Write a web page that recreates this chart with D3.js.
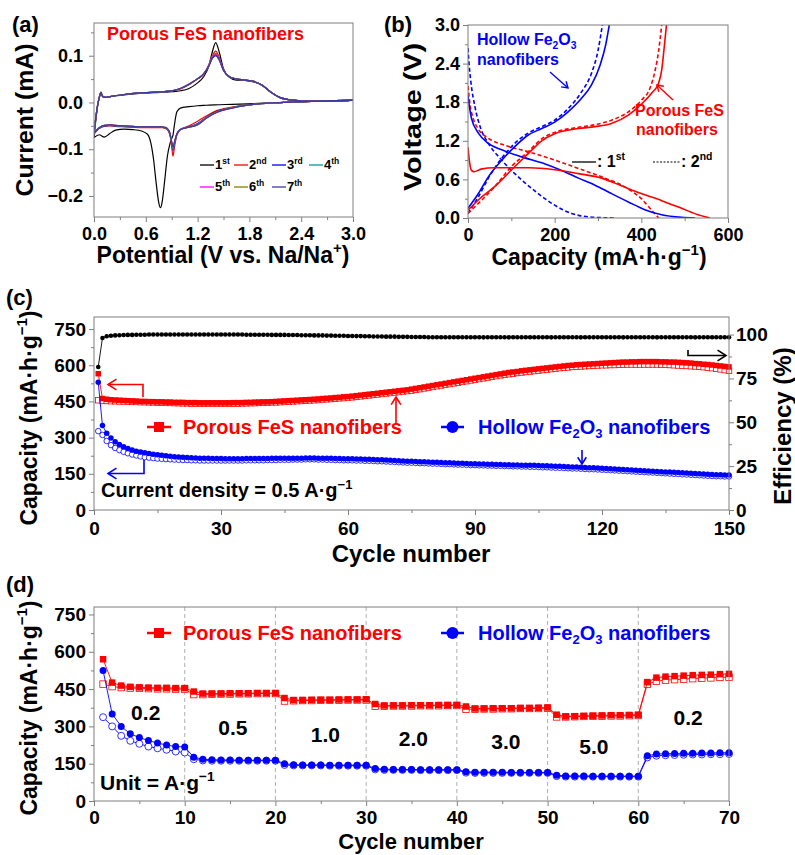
<!DOCTYPE html>
<html>
<head>
<meta charset="utf-8">
<script src="https://cdn.jsdelivr.net/npm/d3@7"></script>
<style>
  body { margin: 0; background: #fff; }
  svg text { font-family: "Liberation Sans", Arial, Helvetica, sans-serif; font-weight: bold; }
</style>
</head>
<body>
<svg id="fig" width="795" height="855"></svg>
<script>
// ---------------- (a) cyclic voltammetry, porous FeS ----------------
const cvCathodicE = [3.0, 2.6, 2.2, 1.9, 1.6, 1.4, 1.3, 1.2, 1.1, 1.0, 0.96, 0.93, 0.915, 0.9, 0.88, 0.85,
    0.82, 0.79, 0.77, 0.75, 0.72, 0.69, 0.66, 0.62, 0.55, 0.45, 0.35, 0.25, 0.18, 0.12, 0.06, 0.0];
const cvAnodicE = [0.0, 0.02, 0.04, 0.06, 0.08, 0.1, 0.13, 0.2, 0.35, 0.5, 0.7, 0.9, 1.0, 1.1, 1.2, 1.27,
    1.33, 1.37, 1.41, 1.45, 1.5, 1.56, 1.65, 1.75, 1.85, 1.95, 2.05, 2.15, 2.3, 2.5, 2.8, 3.0];

const cvCath1 = [0.005, 0.003, 0.000, -0.002, -0.004, -0.005, -0.006, -0.007, -0.009, -0.012, -0.020, -0.050, -0.070, -0.077, -0.088, -0.115,
    -0.165, -0.212, -0.225, -0.214, -0.172, -0.122, -0.088, -0.068, -0.061, -0.058, -0.057, -0.059, -0.067, -0.074, -0.069, -0.075];
const cvCath2 = [0.005, 0.003, 0.000, -0.003, -0.010, -0.019, -0.029, -0.040, -0.050, -0.058, -0.070, -0.098, -0.115, -0.095, -0.070, -0.058,
    -0.055, -0.054, -0.054, -0.054, -0.054, -0.054, -0.054, -0.054, -0.054, -0.053, -0.052, -0.051, -0.050, -0.051, -0.056, -0.068];
const cvCath3 = [0.005, 0.003, 0.000, -0.003, -0.011, -0.021, -0.032, -0.045, -0.052, -0.058, -0.068, -0.090, -0.102, -0.088, -0.068, -0.057,
    -0.054, -0.053, -0.053, -0.053, -0.053, -0.053, -0.053, -0.053, -0.053, -0.052, -0.051, -0.050, -0.049, -0.050, -0.055, -0.066];
const cvCath4 = [0.005, 0.003, 0.000, -0.003, -0.011, -0.022, -0.033, -0.046, -0.052, -0.058, -0.068, -0.089, -0.100, -0.087, -0.067, -0.057,
    -0.054, -0.053, -0.053, -0.053, -0.053, -0.053, -0.053, -0.053, -0.053, -0.052, -0.051, -0.050, -0.049, -0.050, -0.055, -0.066];
const cvCath5 = [0.005, 0.003, 0.000, -0.003, -0.012, -0.023, -0.034, -0.047, -0.053, -0.058, -0.067, -0.086, -0.094, -0.084, -0.066, -0.056,
    -0.053, -0.052, -0.052, -0.052, -0.052, -0.052, -0.052, -0.052, -0.052, -0.051, -0.050, -0.049, -0.048, -0.049, -0.054, -0.065];
const cvCath6 = [0.005, 0.003, 0.000, -0.003, -0.011, -0.022, -0.033, -0.047, -0.053, -0.058, -0.067, -0.087, -0.097, -0.086, -0.067, -0.057,
    -0.053, -0.052, -0.052, -0.052, -0.052, -0.052, -0.052, -0.052, -0.052, -0.051, -0.050, -0.049, -0.048, -0.049, -0.054, -0.065];
const cvCath7 = [0.005, 0.003, 0.000, -0.003, -0.012, -0.023, -0.034, -0.048, -0.053, -0.058, -0.067, -0.086, -0.095, -0.085, -0.066, -0.056,
    -0.053, -0.052, -0.052, -0.052, -0.052, -0.052, -0.052, -0.052, -0.052, -0.051, -0.050, -0.049, -0.048, -0.049, -0.054, -0.065];

const cvAnod1 = [-0.075, -0.040, -0.010, 0.010, 0.022, 0.014, 0.011, 0.013, 0.016, 0.019, 0.021, 0.023, 0.025, 0.030, 0.042, 0.055,
    0.078, 0.108, 0.128, 0.108, 0.072, 0.055, 0.048, 0.047, 0.044, 0.036, 0.022, 0.011, 0.005, 0.003, 0.003, 0.005];
const cvAnod2 = [-0.068, -0.035, -0.008, 0.010, 0.020, 0.013, 0.011, 0.013, 0.017, 0.020, 0.022, 0.025, 0.029, 0.038, 0.050, 0.060,
    0.080, 0.100, 0.110, 0.097, 0.070, 0.056, 0.050, 0.048, 0.045, 0.037, 0.022, 0.011, 0.005, 0.003, 0.003, 0.005];
const cvAnod3 = [-0.066, -0.034, -0.008, 0.010, 0.020, 0.013, 0.011, 0.013, 0.017, 0.020, 0.022, 0.025, 0.030, 0.039, 0.051, 0.061,
    0.078, 0.094, 0.100, 0.091, 0.069, 0.056, 0.050, 0.048, 0.045, 0.037, 0.022, 0.011, 0.005, 0.003, 0.003, 0.005];
const cvAnod4 = [-0.066, -0.034, -0.008, 0.010, 0.020, 0.013, 0.011, 0.013, 0.017, 0.020, 0.022, 0.025, 0.030, 0.039, 0.051, 0.061,
    0.079, 0.097, 0.103, 0.093, 0.069, 0.056, 0.050, 0.048, 0.045, 0.037, 0.022, 0.011, 0.005, 0.003, 0.003, 0.005];
const cvAnod5 = [-0.065, -0.034, -0.008, 0.010, 0.020, 0.013, 0.011, 0.013, 0.017, 0.020, 0.022, 0.025, 0.030, 0.039, 0.051, 0.061,
    0.080, 0.099, 0.105, 0.094, 0.070, 0.056, 0.050, 0.048, 0.045, 0.037, 0.022, 0.011, 0.005, 0.003, 0.003, 0.005];
const cvAnod6 = [-0.065, -0.034, -0.008, 0.010, 0.020, 0.013, 0.011, 0.013, 0.017, 0.020, 0.022, 0.025, 0.030, 0.039, 0.051, 0.061,
    0.079, 0.096, 0.102, 0.092, 0.069, 0.056, 0.050, 0.048, 0.045, 0.037, 0.022, 0.011, 0.005, 0.003, 0.003, 0.005];
const cvAnod7 = [-0.065, -0.034, -0.008, 0.010, 0.020, 0.013, 0.011, 0.013, 0.017, 0.020, 0.022, 0.025, 0.030, 0.039, 0.051, 0.061,
    0.078, 0.095, 0.101, 0.092, 0.069, 0.056, 0.050, 0.048, 0.045, 0.037, 0.022, 0.011, 0.005, 0.003, 0.003, 0.005];

const cvCycleNames = [["1", "st"], ["2", "nd"], ["3", "rd"], ["4", "th"], ["5", "th"], ["6", "th"], ["7", "th"]];
const cvColors = ["#000000", "#ff0000", "#0000ff", "#009c9c", "#ff00ff", "#808000", "#3a3aa8"];
const cvCathodic = [cvCath1, cvCath2, cvCath3, cvCath4, cvCath5, cvCath6, cvCath7];
const cvAnodic = [cvAnod1, cvAnod2, cvAnod3, cvAnod4, cvAnod5, cvAnod6, cvAnod7];

// ---------------- (b) galvanostatic profiles [capacity, voltage] ----------------
const fes1stDischarge = [[0, 1.1], [3, 0.9], [8, 0.74], [14, 0.72], [30, 0.76], [60, 0.78], [140, 0.78], [200, 0.75], [255, 0.69],
    [308, 0.62], [354, 0.5], [400, 0.38], [447, 0.27], [493, 0.15], [531, 0.05], [558, 0]];
const fes1stCharge = [[0, 0.12], [32, 0.33], [62, 0.49], [108, 0.8], [139, 1.0], [170, 1.2], [200, 1.31], [255, 1.39], [293, 1.42],
    [331, 1.47], [370, 1.6], [400, 1.77], [425, 1.95], [440, 2.1], [447, 2.3], [452, 2.6], [458, 3.0]];
const fes2ndDischarge = [[0, 2.05], [5, 1.75], [12, 1.55], [24, 1.38], [47, 1.24], [85, 1.13], [139, 1.03], [200, 0.9], [255, 0.77],
    [308, 0.64], [370, 0.45], [400, 0.3], [424, 0.12], [440, 0]];
const fes2ndCharge = [[0, 0.07], [32, 0.28], [62, 0.49], [100, 0.8], [139, 1.03], [170, 1.23], [200, 1.33], [255, 1.41], [293, 1.45],
    [331, 1.52], [370, 1.65], [400, 1.83], [420, 2.02], [432, 2.3], [440, 2.6], [447, 3.0]];
const fe2o31stDischarge = [[0, 1.9], [4, 1.7], [8, 1.55], [24, 1.32], [47, 1.16], [78, 1.06], [124, 0.95], [178, 0.84], [216, 0.74],
    [255, 0.62], [293, 0.51], [331, 0.38], [370, 0.25], [408, 0.13], [447, 0.05], [493, 0.01], [524, 0]];
const fe2o31stCharge = [[0, 0.15], [24, 0.38], [47, 0.64], [78, 0.9], [108, 1.11], [139, 1.29], [170, 1.39], [200, 1.49], [231, 1.65],
    [262, 1.86], [285, 2.07], [305, 2.38], [318, 2.7], [326, 3.0]];
const fe2o32ndDischarge = [[0, 2.64], [3, 2.35], [6, 2.15], [16, 1.73], [28, 1.42], [47, 1.16], [78, 0.9], [124, 0.59], [162, 0.38],
    [200, 0.2], [239, 0.07], [293, 0.01], [340, 0]];
const fe2o32ndCharge = [[0, 0.07], [24, 0.33], [47, 0.62], [78, 0.93], [108, 1.16], [139, 1.32], [170, 1.42], [200, 1.52], [231, 1.7],
    [262, 1.96], [285, 2.25], [300, 2.6], [310, 3.0]];

// ---------------- (c) cycling at 0.5 A/g, cycles 1..150 ----------------
const fesCycFilled = [
    565,462,459,457,456,455,454,453,452,451,450,450,449,449,448,
    448,447,447,446,446,446,445,445,445,444,444,444,444,444,444,
    444,444,445,445,445,446,446,447,447,448,448,449,450,451,452,
    453,454,455,456,457,458,459,460,462,463,464,466,467,469,470,
    472,474,476,478,480,482,484,486,488,490,492,494,496,498,501,
    504,507,510,513,516,519,522,525,528,531,534,537,540,543,546,
    549,552,555,558,561,564,567,570,572,574,577,579,581,583,585,
    587,589,591,593,595,597,599,600,602,603,604,605,606,607,608,
    609,610,611,612,613,613,614,614,615,615,615,615,615,614,614,
    613,613,612,611,610,609,607,606,604,603,601,599,597,595,593];
const fesCycOpen = [
    455,452,452,451,451,450,450,449,449,448,447,447,446,446,445,
    445,444,444,443,443,442,442,441,441,441,441,441,441,441,441,
    441,441,441,441,442,442,443,443,444,444,445,446,446,447,448,
    449,450,451,452,453,454,455,456,458,459,460,461,463,464,466,
    467,469,471,473,475,477,479,481,483,485,487,489,491,493,495,
    498,501,504,507,510,513,516,519,522,525,528,531,534,537,540,
    543,546,549,552,555,558,561,563,565,568,570,572,574,576,578,
    580,582,584,586,588,590,591,593,594,595,596,597,598,599,600,
    600,601,601,602,602,603,603,603,603,603,603,603,603,602,602,
    601,600,599,598,597,596,595,594,592,590,588,586,583,580,577];
const feCycFilled = [
    530,350,318,298,283,271,262,255,249,244,240,237,234,231,229,
    227,225,223,221,220,219,218,217,216,215,214,214,213,213,213,
    212,212,212,212,212,213,213,213,213,213,213,214,214,214,214,
    214,215,215,215,216,216,216,215,215,214,214,213,213,212,212,
    212,211,211,210,210,209,208,208,207,206,205,204,203,202,202,
    201,200,200,199,198,198,197,196,196,195,194,194,193,192,192,
    191,191,190,190,189,189,188,188,187,187,186,186,185,185,184,
    183,183,182,181,181,180,179,178,178,177,176,175,175,174,173,
    172,171,170,169,168,167,166,165,164,163,162,161,160,159,158,
    157,156,155,154,153,152,151,150,149,148,147,146,146,145,145];
const feCycOpen = [
    327,311,286,269,257,248,241,235,230,226,222,219,217,215,213,
    212,211,210,209,208,207,207,206,206,205,205,205,205,205,205,
    205,205,205,205,205,206,206,206,206,206,207,207,207,208,208,
    208,209,209,209,210,210,210,209,209,208,208,207,207,206,206,
    206,205,205,204,204,203,202,202,201,200,199,198,197,196,196,
    195,194,194,193,192,192,191,190,190,189,188,188,187,186,186,
    185,185,184,184,183,183,182,182,181,181,180,180,179,179,178,
    177,177,176,175,175,174,173,172,172,171,170,169,169,168,167,
    166,165,164,163,162,161,160,159,158,157,156,155,154,153,152,
    151,150,149,148,147,146,145,144,143,142,141,140,140,139,139];
const efficiency = [
    81.5,98.0,99.0,99.3,99.5,99.6,99.7,99.8,99.8,99.9,99.9,99.9,100,100,100,
    100,100,100,100,100,100,100,100,100,100,100,100,100,100,100,
    100,100,100,100,100,99.9,99.9,99.9,99.9,99.9,99.9,99.8,99.8,99.8,99.8,
    99.7,99.7,99.7,99.6,99.6,99.6,99.5,99.5,99.5,99.4,99.4,99.3,99.3,99.3,99.2,
    99.2,99.1,99.1,99.0,99.0,98.9,98.9,98.9,98.8,98.8,98.8,98.7,98.7,98.7,98.6,
    98.6,98.6,98.6,98.5,98.5,98.5,98.5,98.5,98.5,98.5,98.5,98.5,98.5,98.5,98.5,
    98.5,98.4,98.5,98.5,98.5,98.5,98.5,98.4,98.5,98.5,98.5,98.5,98.5,98.5,98.5,
    98.5,98.5,98.4,98.5,98.5,98.5,98.5,98.5,98.5,98.4,98.5,98.5,98.5,98.5,98.5,
    98.5,98.5,98.5,98.5,98.4,98.5,98.5,98.5,98.5,98.5,98.5,98.5,98.4,98.5,98.5,
    98.5,98.5,98.5,98.5,98.5,98.5,98.4,98.5,98.5,98.5,98.5,98.5,98.5,98.5,98.5];

// ---------------- (d) rate capability, cycles 1..70 ----------------
const fesRateFilled = [
    570,476,464,459,457,456,455,455,454,454,
    440,432,432,432,433,433,433,434,434,434,
    414,406,406,407,407,407,408,408,408,409,
    390,384,384,384,385,385,385,386,386,386,
    380,372,372,373,373,373,374,374,375,376,
    347,340,341,342,343,344,345,345,346,347,
    478,496,500,502,504,506,507,508,510,511];
const fesRateOpen = [
    470,460,456,454,453,452,451,451,450,450,
    428,428,429,430,430,431,431,432,432,432,
    402,403,404,404,405,405,405,406,406,406,
    381,381,382,382,382,383,383,383,384,384,
    369,369,370,370,371,371,372,372,372,373,
    338,338,339,340,341,341,342,342,343,344,
    470,482,486,488,490,492,494,495,497,498];
const feRateFilled = [
    525,350,300,270,255,243,233,225,219,217,
    176,168,166,165,165,164,164,164,164,164,
    150,146,145,145,145,144,144,144,144,144,
    131,128,127,127,127,126,126,126,126,126,
    118,116,116,116,116,115,115,115,115,115,
    104,101,101,101,100,100,100,100,100,100,
    182,189,190,191,192,192,193,193,194,194];
const feRateOpen = [
    337,300,262,242,230,219,212,206,199,195,
    168,163,162,162,162,162,162,162,162,162,
    145,143,143,143,143,142,142,142,142,142,
    127,125,125,125,125,124,124,124,124,124,
    114,113,113,113,113,113,113,113,113,113,
    100,98,98,98,98,98,98,98,98,98,
    175,182,184,185,186,187,187,188,188,189];
const rateLabels = ["0.2", "0.5", "1.0", "2.0", "3.0", "5.0", "0.2"];

const cyclesC = d3.range(1, fesCycFilled.length + 1);
const cyclesD = d3.range(1, fesRateFilled.length + 1);

// ---------------- drawing helpers ----------------
const svg = d3.select("#fig");
const FRAME = "#7f7f7f";
const RED = "#ff0000";
const BLUE = "#0000ff";

// parts: plain strings or {t, sup:true} / {t, sub:true}
function rich(sel, parts, size) {
    let shift = 0;
    parts.forEach(p => {
        const o = typeof p === "string" ? {t: p} : p;
        const target = o.sup ? -0.42 * size : o.sub ? 0.22 * size : 0;
        sel.append("tspan")
            .attr("dy", target - shift)
            .attr("font-size", (o.sup || o.sub) ? size * 0.65 : size)
            .text(o.t);
        shift = target;
    });
}

function txt(x, y, parts, size, opt = {}) {
    let tr = `translate(${x},${y})`;
    if (opt.rotate) tr += ` rotate(${opt.rotate})`;
    if (opt.sx) tr += ` scale(${opt.sx},1)`;
    const t = svg.append("text")
        .attr("transform", tr)
        .attr("text-anchor", opt.anchor || "start")
        .attr("font-size", size)
        .attr("fill", opt.color || "#000");
    rich(t, typeof parts === "string" ? [parts] : parts, size);
    return t;
}

function frame(b) {
    svg.append("rect")
        .attr("x", b.x0).attr("y", b.y0)
        .attr("width", b.x1 - b.x0).attr("height", b.y1 - b.y0)
        .attr("fill", "none").attr("stroke", FRAME).attr("stroke-width", 1);
}

function axis(kind, scale, b, major, minor, fmt, size, pad) {
    const pos = {left: [b.x0, 0], right: [b.x1, 0], bottom: [0, b.y1]}[kind];
    const maker = {left: d3.axisLeft, right: d3.axisRight, bottom: d3.axisBottom}[kind];
    const g = svg.append("g").attr("transform", `translate(${pos})`)
        .call(maker(scale).tickValues(major).tickFormat(fmt).tickSizeInner(5).tickSizeOuter(0).tickPadding(pad));
    g.select(".domain").remove();
    g.selectAll(".tick line").attr("stroke", FRAME);
    g.selectAll(".tick text").attr("font-size", size).attr("fill", "#000");
    const m = svg.append("g").attr("transform", `translate(${pos})`)
        .call(maker(scale).tickValues(minor).tickFormat("").tickSizeInner(3).tickSizeOuter(0));
    m.select(".domain").remove();
    m.selectAll(".tick line").attr("stroke", FRAME);
}

function arrow(points, color, head, width) {
    svg.append("path").attr("d", d3.line()(points))
        .attr("fill", "none").attr("stroke", color).attr("stroke-width", width);
    const p = points[points.length - 2], q = points[points.length - 1];
    const a = Math.atan2(q[1] - p[1], q[0] - p[0]);
    const barbs = [a + Math.PI * 0.82, a - Math.PI * 0.82].map(t => [q[0] + head * Math.cos(t), q[1] + head * Math.sin(t)]);
    svg.append("path").attr("d", d3.line()([barbs[0], q, barbs[1]]))
        .attr("fill", "none").attr("stroke", color).attr("stroke-width", width);
}

function series(xs, ys, xv, yv, color, marker, size, open) {
    const pts = xv.map((v, i) => [v, yv[i]]);
    svg.append("path")
        .attr("d", d3.line().x(d => xs(d[0])).y(d => ys(d[1]))(pts))
        .attr("fill", "none").attr("stroke", color).attr("stroke-width", 0.9);
    const g = svg.append("g");
    if (marker === "square") {
        g.selectAll("rect").data(pts).join("rect")
            .attr("x", d => xs(d[0]) - size / 2).attr("y", d => ys(d[1]) - size / 2)
            .attr("width", size).attr("height", size)
            .attr("fill", open ? "#fff" : color).attr("stroke", color).attr("stroke-width", open ? 0.8 : 0);
    } else {
        g.selectAll("circle").data(pts).join("circle")
            .attr("cx", d => xs(d[0])).attr("cy", d => ys(d[1])).attr("r", size / 2)
            .attr("fill", open ? "#fff" : color).attr("stroke", color).attr("stroke-width", open ? 0.8 : 0);
    }
}

const fmt1 = d3.format(".1f");
const fmt0 = d3.format("d");
const capTitle = ["Capacity (mA·h·g", {t: "−1", sup: true}, ")"];

// ================= (a) =================
const boxA = {x0: 94, x1: 353, y0: 23, y1: 217};
const xa = d3.scaleLinear().domain([0, 3]).range([boxA.x0, boxA.x1]);
const ya = d3.scaleLinear().domain([-0.245, 0.17]).range([boxA.y1, boxA.y0]);
svg.append("clipPath").attr("id", "clipA").append("rect")
    .attr("x", boxA.x0).attr("y", boxA.y0).attr("width", boxA.x1 - boxA.x0).attr("height", boxA.y1 - boxA.y0);
const cvLine = d3.line().x(d => xa(d[0])).y(d => ya(d[1])).curve(d3.curveMonotoneX);
const gA = svg.append("g").attr("clip-path", "url(#clipA)");
cvCycleNames.forEach((c, i) => {
    const cath = cvCathodicE.map((e, j) => [e, cvCathodic[i][j]]).reverse();
    const anod = cvAnodicE.map((e, j) => [e, cvAnodic[i][j]]);
    [cath, anod].forEach(branch => {
        gA.append("path").attr("d", cvLine(branch))
            .attr("fill", "none").attr("stroke", cvColors[i]).attr("stroke-width", 1.2);
    });
});
frame(boxA);
axis("left", ya, boxA, [-0.2, -0.1, 0, 0.1], [-0.15, -0.05, 0.05, 0.15], fmt1, 18, 6);
axis("bottom", xa, boxA, [0, 0.6, 1.2, 1.8, 2.4, 3.0], [0.3, 0.9, 1.5, 2.1, 2.7], fmt1, 18, 5);
txt(107, 40, "Porous FeS nanofibers", 18, {color: RED});
const legX = [200, 234, 272, 309], legY = [165, 187];
cvCycleNames.forEach((c, i) => {
    const x = legX[i % 4], y = legY[Math.floor(i / 4)];
    svg.append("line").attr("x1", x).attr("x2", x + 14).attr("y1", y).attr("y2", y)
        .attr("stroke", cvColors[i]).attr("stroke-width", 1.3);
    txt(x + 15, y + 4, [c[0], {t: c[1], sup: true}], 13);
});
txt(12, 32, "(a)", 22);
txt(33, 120, "Current (mA)", 23, {rotate: -90, anchor: "middle", sx: 1.08});
txt(223, 263, ["Potential (V vs. Na/Na", {t: "+", sup: true}, ")"], 23, {anchor: "middle"});

// ================= (b) =================
const boxB = {x0: 468, x1: 728, y0: 25, y1: 218};
const xb = d3.scaleLinear().domain([0, 600]).range([boxB.x0, boxB.x1]);
const yb = d3.scaleLinear().domain([0, 3]).range([boxB.y1, boxB.y0]);
svg.append("clipPath").attr("id", "clipB").append("rect")
    .attr("x", boxB.x0).attr("y", boxB.y0).attr("width", boxB.x1 - boxB.x0).attr("height", boxB.y1 - boxB.y0);
const gcLine = d3.line().x(d => xb(d[0])).y(d => yb(d[1])).curve(d3.curveMonotoneX);
const gB = svg.append("g").attr("clip-path", "url(#clipB)");
[
    [fe2o32ndDischarge, BLUE, true], [fe2o32ndCharge, BLUE, true],
    [fes2ndDischarge, RED, true], [fes2ndCharge, RED, true],
    [fe2o31stDischarge, BLUE, false], [fe2o31stCharge, BLUE, false],
    [fes1stDischarge, RED, false], [fes1stCharge, RED, false]
].forEach(([data, color, dashed]) => {
    gB.append("path").attr("d", gcLine(data))
        .attr("fill", "none").attr("stroke", color).attr("stroke-width", 1.6)
        .attr("stroke-dasharray", dashed ? "4,2.5" : null);
});
frame(boxB);
axis("left", yb, boxB, [0, 0.6, 1.2, 1.8, 2.4, 3.0], [0.3, 0.9, 1.5, 2.1, 2.7], fmt1, 18, 3);
axis("bottom", xb, boxB, [0, 200, 400, 600], [100, 300, 500], fmt0, 18, 5);
txt(477, 45, ["Hollow Fe", {t: "2", sub: true}, "O", {t: "3", sub: true}], 16, {color: BLUE});
txt(477, 65, "nanofibers", 16, {color: BLUE});
arrow([[550, 72], [568, 88]], BLUE, 7, 1.4);
txt(635, 116, "Porous FeS", 16, {color: RED});
txt(636, 135, "nanofibers", 16, {color: RED});
arrow([[673, 100], [657, 85]], RED, 7, 1.4);
svg.append("line").attr("x1", 572).attr("x2", 596).attr("y1", 162).attr("y2", 162)
    .attr("stroke", "#000").attr("stroke-width", 1.3);
txt(597, 167, [": 1", {t: "st", sup: true}], 16);
svg.append("line").attr("x1", 653).attr("x2", 680).attr("y1", 162).attr("y2", 162)
    .attr("stroke", "#000").attr("stroke-width", 1.1).attr("stroke-dasharray", "2,1.5");
txt(681, 167, [": 2", {t: "nd", sup: true}], 16);
txt(384, 32, "(b)", 22);
txt(421, 117, "Voltage (V)", 24, {rotate: -90, anchor: "middle", sx: 1.2});
txt(599, 265, ["Capacity (mA·h·g", {t: "−1", sup: true}, ")"], 23, {anchor: "middle"});

// ================= (c) =================
const boxC = {x0: 94, x1: 729, y0: 317, y1: 510};
const xc = d3.scaleLinear().domain([0, 150]).range([boxC.x0, boxC.x1]);
const yc = d3.scaleLinear().domain([0, 800]).range([boxC.y1, boxC.y0]);
const yce = d3.scaleLinear().domain([0, 110]).range([boxC.y1, boxC.y0]);
series(xc, yce, cyclesC, efficiency, "#000", "circle", 4.6, false);
series(xc, yc, cyclesC, fesCycOpen, RED, "square", 5.5, true);
series(xc, yc, cyclesC, fesCycFilled, RED, "square", 5.5, false);
series(xc, yc, cyclesC, feCycOpen, BLUE, "circle", 5.5, true);
series(xc, yc, cyclesC, feCycFilled, BLUE, "circle", 5.5, false);
frame(boxC);
axis("left", yc, boxC, d3.range(0, 751, 150), d3.range(75, 800, 150), fmt0, 19, 3);
axis("right", yce, boxC, [0, 25, 50, 75, 100], [12.5, 37.5, 62.5, 87.5], fmt0, 19, 2);
axis("bottom", xc, boxC, d3.range(0, 151, 30), d3.range(15, 150, 30), fmt0, 19, 7);

arrow([[143, 397], [143, 384.5], [108, 384.5]], RED, 10, 1.6);
arrow([[144, 460], [144, 473.5], [108, 473.5]], BLUE, 10, 1.6);
arrow([[688, 350], [688, 355.5], [726, 355.5]], "#000", 10, 1.6);
arrow([[396, 423], [396, 397]], RED, 9, 1.6);
arrow([[582, 450], [582, 464]], BLUE, 8, 1.6);

function legendPair(y) {
    svg.append("line").attr("x1", 147).attr("x2", 171).attr("y1", y).attr("y2", y)
        .attr("stroke", RED).attr("stroke-width", 2.5);
    svg.append("rect").attr("x", 154).attr("y", y - 5).attr("width", 10).attr("height", 10).attr("fill", RED);
    txt(183, y + 7, "Porous FeS nanofibers", 20, {color: RED});
    svg.append("line").attr("x1", 441).attr("x2", 464).attr("y1", y).attr("y2", y)
        .attr("stroke", BLUE).attr("stroke-width", 2.5);
    svg.append("circle").attr("cx", 452.5).attr("cy", y).attr("r", 6).attr("fill", BLUE);
    txt(478, y + 7, ["Hollow Fe", {t: "2", sub: true}, "O", {t: "3", sub: true}, " nanofibers"], 20, {color: BLUE});
}
legendPair(427);
txt(101, 497, ["Current density = 0.5 A·g", {t: "−1", sup: true}], 20);
txt(6, 305, "(c)", 22);
txt(37, 418, capTitle, 23, {rotate: -90, anchor: "middle"});
txt(791, 426, "Efficiency (%)", 24, {rotate: -90, anchor: "middle"});
txt(411, 562, "Cycle number", 24, {anchor: "middle"});

// ================= (d) =================
const boxD = {x0: 94, x1: 729, y0: 607, y1: 801};
const xd = d3.scaleLinear().domain([0, 70]).range([boxD.x0, boxD.x1]);
const yd = d3.scaleLinear().domain([0, 780]).range([boxD.y1, boxD.y0]);
svg.append("g").selectAll("line").data(d3.range(10, 61, 10)).join("line")
    .attr("x1", d => xd(d)).attr("x2", d => xd(d)).attr("y1", boxD.y0).attr("y2", boxD.y1)
    .attr("stroke", "#9a9a9a").attr("stroke-width", 0.8).attr("stroke-dasharray", "4,3");
series(xd, yd, cyclesD, fesRateOpen, RED, "square", 6.5, true);
series(xd, yd, cyclesD, fesRateFilled, RED, "square", 6.5, false);
series(xd, yd, cyclesD, feRateOpen, BLUE, "circle", 7, true);
series(xd, yd, cyclesD, feRateFilled, BLUE, "circle", 7, false);
frame(boxD);
axis("left", yd, boxD, d3.range(0, 751, 150), d3.range(75, 780, 150), fmt0, 19, 3);
axis("bottom", xd, boxD, d3.range(0, 71, 10), d3.range(5, 70, 10), fmt0, 19, 5);
legendPair(633);
// rate labels placed in data coordinates [cycle, capacity]
const rateLabelAt = [[5.7, 354], [15.3, 294], [25.5, 265], [35.2, 249], [45.4, 237], [55.1, 217], [65.5, 334]];
rateLabels.forEach((l, i) => txt(xd(rateLabelAt[i][0]), yd(rateLabelAt[i][1]) + 7, l, 21, {anchor: "middle"}));
txt(100, 790, ["Unit = A·g", {t: "−1", sup: true}], 21);
txt(6, 592, "(d)", 22);
txt(37, 708, capTitle, 23, {rotate: -90, anchor: "middle"});
txt(411, 849, "Cycle number", 22, {anchor: "middle"});
</script>
</body>
</html>
